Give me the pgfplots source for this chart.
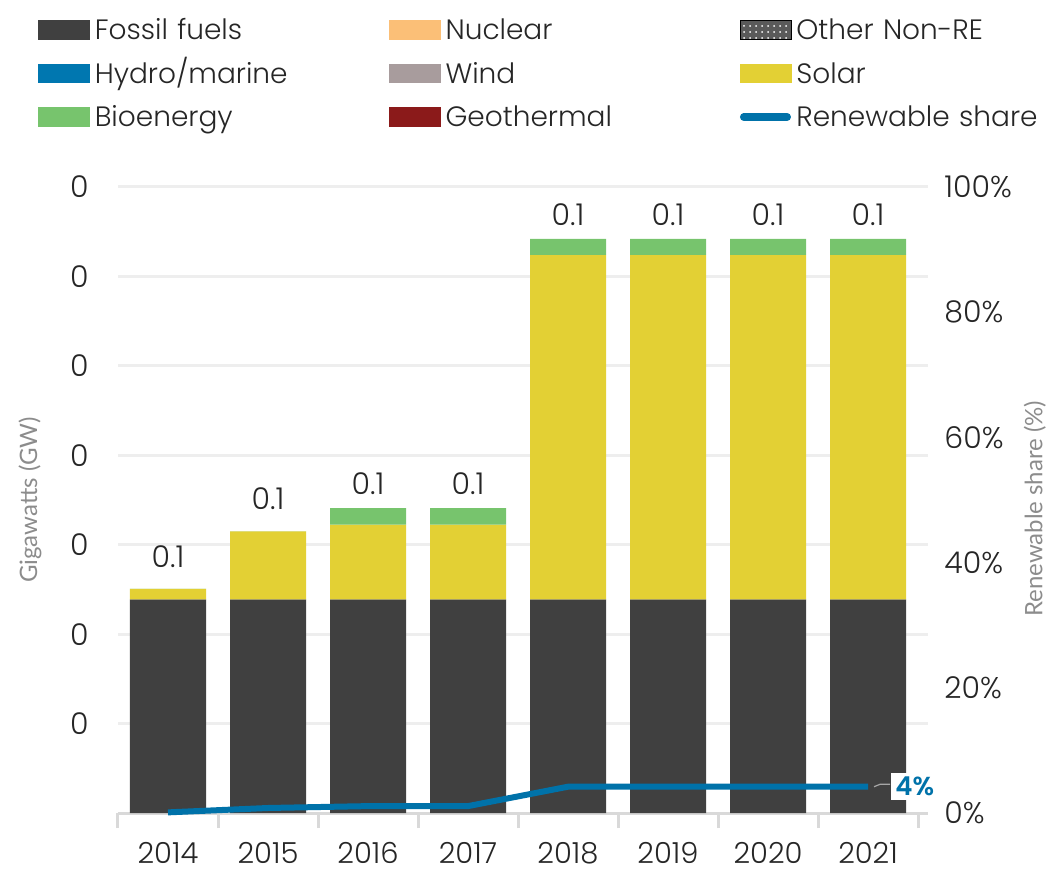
\documentclass[border=0pt]{standalone}
\usepackage{fontspec}
\setmainfont{Poppins}[UprightFont=* Light, BoldFont=* SemiBold]
\newfontfamily\labfont{Lato}
\usepackage{pgfplots}
\pgfplotsset{compat=1.18}
\usepackage{pgfplotstable}
\usetikzlibrary{patterns}

\definecolor{fossil}{HTML}{404040}
\definecolor{nuclear}{HTML}{FBBF77}
\definecolor{othernre}{HTML}{5A5A5A}
\definecolor{hydro}{HTML}{0077B0}
\definecolor{wind}{HTML}{A89C9D}
\definecolor{solar}{HTML}{E3D034}
\definecolor{bio}{HTML}{77C46D}
\definecolor{geo}{HTML}{8B1A1A}
\definecolor{reline}{HTML}{0072A9}
\definecolor{gridc}{HTML}{EEEEEE}
\definecolor{axisc}{HTML}{D9D9D9}
\definecolor{txt}{HTML}{262626}
\definecolor{labc}{HTML}{8C8C8C}

\pgfplotstableread{
x fossil solar bio total
0 0.0478 0.0023 0.000001 0.0501
1 0.0478 0.0152 0.000001 0.0630
2 0.0478 0.0167 0.0037 0.0682
3 0.0478 0.0167 0.0037 0.0682
4 0.0478 0.0770 0.0036 0.1284
5 0.0478 0.0770 0.0036 0.1284
6 0.0478 0.0770 0.0036 0.1284
7 0.0478 0.0770 0.0036 0.1284
}\capacity

\pgfplotstableread{
x share
0 0.1
1 0.8
2 1.1
3 1.1
4 4.2
5 4.2
6 4.2
7 4.2
}\share

\newcommand\boxleg[1]{\addlegendimage{legend image code/.code={\fill[#1] (0pt,-3pt) rectangle (25.5pt,6.3pt);}}}

\begin{document}
\begin{tikzpicture}
\useasboundingbox (-59pt,-29.5pt) rectangle (465pt,406.5pt);
\begin{axis}[
  at={(0,0)}, anchor=south west,
  scale only axis, width=405pt, height=313pt,
  xmin=-0.5, xmax=7.6, ymin=0, ymax=0.14,
  axis x line*=bottom, axis y line*=left,
  x axis line style={draw=axisc, line width=1.5pt},
  y axis line style={draw=none},
  xtick={-0.5,0.5,...,7.5},
  x tick label as interval,
  xticklabels={2014,2015,2016,2017,2018,2019,2020,2021},
  xtick style={draw=axisc, line width=1.5pt},
  tick align=outside, major tick length=7.5pt,
  xticklabel style={anchor=north, inner sep=0pt, yshift=-7pt, font=\fontsize{14.5}{16}\selectfont, text=txt},
  ytick={0.02,0.04,0.06,0.08,0.10,0.12,0.14},
  yticklabels={0,0,0,0,0,0,0},
  ytick style={draw=none},
  yticklabel style={anchor=east, inner sep=0pt, xshift=-7pt, font=\fontsize{15}{16}\selectfont, text=txt},
  ymajorgrids, grid style={draw=gridc, line width=1.5pt},
  ylabel={Gigawatts (GW)},
  ylabel style={at={(axis description cs:-0.1086,0.5)}, anchor=center, font=\labfont\fontsize{12}{14}\selectfont, text=labc},
  /pgf/number format/assume math mode=true,
  legend columns=3,
  legend style={at={(axis description cs:-0.0988,1.2664)}, anchor=north west, draw=none, fill=none,
    inner sep=0pt, outer sep=0pt, row sep=9pt,
    nodes={inner sep=0pt, text width=147pt, align=left, text height=9.5pt, text depth=3pt, font=\fontsize{14}{15}\selectfont, text=black!85},
    /tikz/every odd column/.append style={column sep=2.5pt}},
  legend cell align=left,
]
\boxleg{fossil}\addlegendentry{Fossil fuels}
\boxleg{nuclear}\addlegendentry{Nuclear}
\addlegendimage{legend image code/.code={\fill[othernre] (0pt,-3pt) rectangle (25.5pt,6.3pt);\fill[pattern=dots, pattern color=white] (0pt,-3pt) rectangle (25.5pt,6.3pt);}}\addlegendentry{Other Non-RE}
\boxleg{hydro}\addlegendentry{Hydro/marine}
\boxleg{wind}\addlegendentry{Wind}
\boxleg{solar}\addlegendentry{Solar}
\boxleg{bio}\addlegendentry{Bioenergy}
\boxleg{geo}\addlegendentry{Geothermal}
\addlegendimage{legend image code/.code={\draw[reline, line width=3.8pt, line cap=round] (1.9pt,1.65pt) -- (23.6pt,1.65pt);}}\addlegendentry{Renewable share}

\addplot[ybar stacked, bar width=38pt, fill=fossil, draw=none, forget plot] table[x=x, y=fossil] {\capacity};
\addplot[ybar stacked, bar width=38pt, fill=solar, draw=none, forget plot] table[x=x, y=solar] {\capacity};
\addplot[ybar stacked, bar width=38pt, fill=bio, draw=none, forget plot,
  point meta=explicit,
  nodes near coords={\pgfmathprintnumber[fixed,precision=1]{\pgfplotspointmeta}},
  every node near coord/.append style={anchor=south, inner sep=0pt, yshift=10.5pt, font=\fontsize{15}{16}\selectfont, text=txt}]
  table[x=x, y=bio, meta=total] {\capacity};
\end{axis}

\begin{axis}[
  at={(0,0)}, anchor=south west,
  scale only axis, width=405pt, height=313pt,
  xmin=-0.5, xmax=7.6, ymin=0, ymax=100,
  axis x line=none, axis y line*=right,
  y axis line style={draw=none},
  ytick={0,20,40,60,80,100},
  yticklabels={0\%,20\%,40\%,60\%,80\%,100\%},
  ytick style={draw=none},
  yticklabel style={anchor=west, inner sep=0pt, xshift=8pt, font=\fontsize{15}{16}\selectfont, text=txt},
  ylabel={Renewable share (\%)},
  ylabel style={at={(axis description cs:1.132,0.486)}, anchor=center, font=\labfont\fontsize{12}{14}\selectfont, text=labc},
  clip=false,
]
\addplot[reline, line width=3pt, line join=round] table[x=x, y=share] {\share};
\draw[gray!70, line width=0.6pt] ([xshift=3pt]axis cs:7,4.2) -- ([xshift=6pt,yshift=1.2pt]axis cs:7,4.2) -- ([xshift=11pt,yshift=1.2pt]axis cs:7,4.2);
\node[anchor=west, fill=white, inner sep=2pt, xshift=11.5pt, text=reline, font=\bfseries\fontsize{13}{16}\selectfont] at (axis cs:7,4.2) {4\%};
\end{axis}
\end{tikzpicture}
\end{document}
